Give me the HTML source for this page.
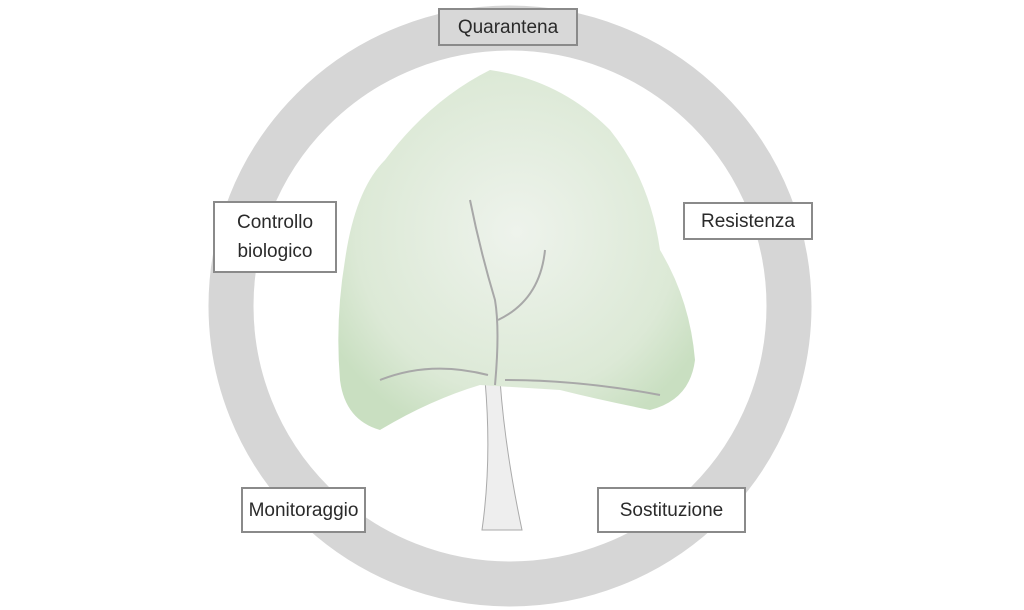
<!DOCTYPE html>
<html><head><style>
body{margin:0;width:1024px;height:610px;background:#fff;overflow:hidden;position:relative;font-family:"Liberation Sans",sans-serif}
.b{position:absolute;border:2px solid #8a8a8a;box-sizing:border-box;display:flex;align-items:center;justify-content:center;text-align:center;font-size:19px;color:#2a2a2a;line-height:29px;background:#fff}
</style></head><body>
<svg width="1024" height="610" style="position:absolute;left:0;top:0">
<defs>
<radialGradient id="g" cx="50%" cy="45%" r="60%"><stop offset="0" stop-color="#eef3ec"/><stop offset="0.75" stop-color="#dce9d6"/><stop offset="1" stop-color="#c9dfc1"/></radialGradient>
</defs>
<ellipse cx="510" cy="306" rx="279" ry="278" fill="none" stroke="#d6d6d6" stroke-width="45"/>
<path d="M485 380 L500 380 Q505 450 522 530 L482 530 Q492 460 485 380Z" fill="#eeeeee" stroke="#aaa" stroke-width="1"/>
<path d="M490 70 Q560 80 610 130 Q650 180 660 250 Q690 300 695 360 Q690 400 650 410 Q600 400 560 390 L480 385 Q430 400 380 430 Q345 420 340 380 Q335 320 345 260 Q355 190 385 160 Q430 100 490 70Z" fill="url(#g)"/>
<g stroke="#a8a8a8" stroke-width="2" fill="none"><path d="M495 385 Q500 330 495 300 Q480 250 470 200"/><path d="M498 320 Q540 300 545 250"/><path d="M505 380 Q580 380 660 395"/><path d="M488 375 Q430 360 380 380"/></g>
</svg>
<div class="b" style="left:438px;top:8px;width:140px;height:38px;background:#d8d8d8">Quarantena</div>
<div class="b" style="left:213px;top:201px;width:124px;height:72px">Controllo<br>biologico</div>
<div class="b" style="left:683px;top:202px;width:130px;height:38px">Resistenza</div>
<div class="b" style="left:241px;top:487px;width:125px;height:46px">Monitoraggio</div>
<div class="b" style="left:597px;top:487px;width:149px;height:46px">Sostituzione</div>
</body></html>
